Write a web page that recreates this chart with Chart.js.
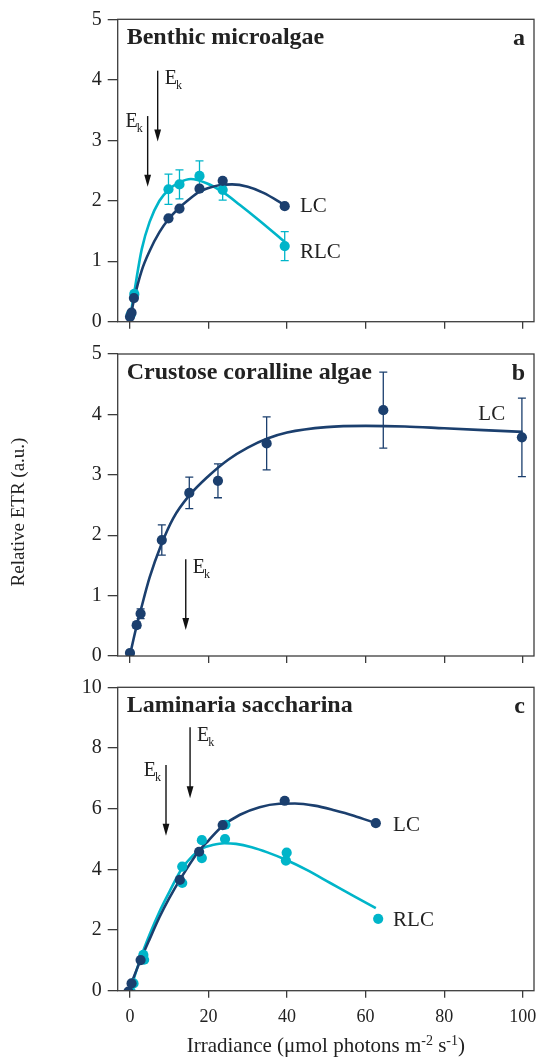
<!DOCTYPE html>
<html>
<head>
<meta charset="utf-8">
<script src="https://cdn.jsdelivr.net/npm/chart.js@4.4.0/dist/chart.umd.min.js"></script>
<style>
  body { margin: 0; background: #fff; }
  .panel { position: absolute; left: 0; width: 540px; }
</style>
</head>
<body>
<div class="panel" style="top:0;height:340px"><canvas id="chartA"></canvas></div>
<div class="panel" style="top:340px;height:330px"><canvas id="chartB"></canvas></div>
<div class="panel" style="top:670px;height:389px"><canvas id="chartC"></canvas></div>
<script>
// shared x axis (irradiance)
const xTicks = [0, 20, 40, 60, 80, 100];

// panel a - benthic microalgae
const aLcX = [0, 0.4, 1.0, 9.8, 12.6, 17.7, 23.6, 39.4];
const aLcY = [0.08, 0.15, 0.39, 1.71, 1.87, 2.20, 2.33, 1.91];
const aRlcX = [0.2, 1.1, 9.8, 12.6, 17.7, 23.6, 39.4];
const aRlcY = [0.12, 0.46, 2.19, 2.27, 2.41, 2.18, 1.25];
const aRlcErr = [0, 0, 0.25, 0.24, 0.25, 0.17, 0.24];
const aLcFitX = [0, 1, 3, 5, 7.5, 10, 12.5, 15, 17.7, 20, 23, 26, 30, 34, 39.4];
const aLcFitY = [0.03, 0.36, 0.85, 1.17, 1.48, 1.71, 1.88, 2.02, 2.15, 2.21, 2.26, 2.27, 2.23, 2.13, 1.93];
const aRlcFitX = [0, 1, 3, 5, 7.5, 10, 12.5, 15.5, 19.5, 23.5, 28, 33, 39.4];
const aRlcFitY = [0.05, 0.45, 1.2, 1.65, 2.0, 2.19, 2.30, 2.36, 2.29, 2.15, 1.93, 1.67, 1.32];
const aTicks = [0, 1, 2, 3, 4, 5];
const aEkX = [7.05, 4.5];
const aEkTop = [4.15, 3.40];
const aEkBottom = [2.98, 2.23];
const aEkSide = ['right', 'left'];
const aLabels = ['LC', 'RLC'];
const aLabelX = [43.3, 43.3];
const aLabelY = [1.82, 1.06];

// panel b - crustose coralline algae
const bLcX = [0, 1.7, 2.7, 8.1, 15.1, 22.4, 34.8, 64.5, 99.8];
const bLcY = [0.05, 0.51, 0.70, 1.92, 2.70, 2.90, 3.52, 4.07, 3.62];
const bLcErr = [0, 0.05, 0.08, 0.25, 0.26, 0.28, 0.44, 0.63, 0.65];
const bLcFitX = [0, 1.7, 2.7, 5, 8, 11, 15, 20, 25, 30, 35, 40, 50, 60, 70, 80, 90, 100];
const bLcFitY = [0.02, 0.5, 0.75, 1.3, 1.85, 2.28, 2.65, 2.98, 3.25, 3.45, 3.6, 3.7, 3.79, 3.81, 3.8, 3.77, 3.74, 3.71];
const bTicks = [0, 1, 2, 3, 4, 5];
const bEkX = [14.2];
const bEkTop = [1.60];
const bEkBottom = [0.43];
const bEkSide = ['right'];
const bLabels = ['LC'];
const bLabelX = [88.7];
const bLabelY = [3.91];

// panel c - laminaria saccharina
const cLcX = [-0.4, 0.4, 2.7, 12.7, 17.6, 23.6, 39.4, 62.6];
const cLcY = [-0.03, 0.24, 1.01, 3.65, 4.58, 5.46, 6.26, 5.52];
const cRlcX = [0.2, 0.9, 3.4, 3.6, 13.3, 13.3, 18.3, 18.3, 24.2, 24.3, 39.9, 39.7, 63.2];
const cRlcY = [-0.03, 0.24, 1.18, 1.02, 4.09, 3.55, 4.96, 4.37, 5.0, 5.47, 4.55, 4.29, 2.37];
const cLcFitX = [-0.4, 2.5, 5, 7.5, 10, 13.2, 17.4, 20, 23.5, 28, 33, 38, 42, 47, 52, 57, 62.6];
const cLcFitY = [0, 0.95, 1.7, 2.42, 3.05, 3.76, 4.58, 4.95, 5.42, 5.8, 6.05, 6.16, 6.17, 6.1, 5.95, 5.77, 5.52];
const cRlcFitX = [0, 2.5, 5, 7.5, 10, 13, 16, 18.5, 21, 24, 27, 31, 35, 40, 45, 51, 57, 62.6];
const cRlcFitY = [0, 1.0, 1.85, 2.6, 3.25, 3.98, 4.45, 4.7, 4.8, 4.86, 4.84, 4.73, 4.56, 4.3, 3.98, 3.55, 3.12, 2.72];
const cTicks = [0, 2, 4, 6, 8, 10];
const cEkX = [15.3, 9.17];
const cEkTop = [8.68, 7.44];
const cEkBottom = [6.34, 5.11];
const cEkSide = ['right', 'left'];
const cLabels = ['LC', 'RLC'];
const cLabelX = [67.0, 67.0];
const cLabelY = [5.27, 2.13];

const FONT = '"Liberation Serif", "Times New Roman", serif';
const NAVY = '#1b3f6e';
const CYAN = '#00b5c9';
const AXIS = '#3c3c3c';
const TEXT = '#222';
const AREA_LEFT = 117.7;
const X_MIN = -3.13;
const X_MAX = 102.88;

function pts(xs, ys) {
  return xs.map((x, i) => ({ x: x, y: ys[i] }));
}

function fitSet(xs, ys, color, order) {
  return {
    data: pts(xs, ys), borderColor: color, borderWidth: 2.6, pointRadius: 0,
    showLine: true, cubicInterpolationMode: 'monotone', fill: false, order: order
  };
}

function dotSet(xs, ys, color, order, errs) {
  return {
    data: pts(xs, ys), showLine: false, pointRadius: 5.1, borderWidth: 0,
    pointBackgroundColor: color, pointBorderColor: color, pointBorderWidth: 0,
    errColor: color, errors: errs || null, order: order
  };
}

function drawEk(ctx, x, top, side) {
  ctx.font = '20px ' + FONT;
  const wE = ctx.measureText('E').width;
  ctx.font = '12px ' + FONT;
  const wk = ctx.measureText('k').width;
  const start = side === 'right' ? x + 7 : x - 5 - (wE - 1 + wk);
  const base = side === 'right' ? top + 13.5 : top + 11;
  ctx.font = '20px ' + FONT;
  ctx.fillText('E', start, base);
  ctx.font = '12px ' + FONT;
  ctx.fillText('k', start + wE - 1, base + 5);
}

function drawXTitle(ctx, cx, base) {
  const parts = [['Irradiance (μmol photons m', 0], ['-2', 1], [' s', 0], ['-1', 1], [')', 0]];
  const big = '21px ' + FONT, small = '14px ' + FONT;
  let w = 0;
  parts.forEach(([t, s]) => { ctx.font = s ? small : big; w += ctx.measureText(t).width; });
  let xx = cx - w / 2;
  parts.forEach(([t, s]) => {
    ctx.font = s ? small : big;
    ctx.fillText(t, xx, s ? base - 7 : base);
    xx += ctx.measureText(t).width;
  });
}

function panelPlugin(p) {
  return {
    id: 'panel_' + p.letter,
    beforeDatasetDraw(chart, args) {
      const ds = chart.data.datasets[args.index];
      if (!ds.errors) return;
      const { ctx, scales: { x, y } } = chart;
      ctx.save();
      ctx.strokeStyle = ds.errColor;
      ctx.lineWidth = 1.3;
      ds.data.forEach((pt, i) => {
        const e = ds.errors[i];
        if (!e) return;
        const px = x.getPixelForValue(pt.x);
        const y1 = y.getPixelForValue(pt.y + e);
        const y2 = y.getPixelForValue(pt.y - e);
        ctx.beginPath();
        ctx.moveTo(px, y1); ctx.lineTo(px, y2);
        ctx.moveTo(px - 4, y1); ctx.lineTo(px + 4, y1);
        ctx.moveTo(px - 4, y2); ctx.lineTo(px + 4, y2);
        ctx.stroke();
      });
      ctx.restore();
    },
    afterDraw(chart) {
      const { ctx, chartArea: a, scales: { x, y } } = chart;
      ctx.save();
      // frame
      ctx.strokeStyle = AXIS;
      ctx.lineWidth = 1.3;
      ctx.strokeRect(a.left, a.top, a.right - a.left, a.bottom - a.top);

      ctx.fillStyle = TEXT;
      ctx.textBaseline = 'alphabetic';
      // panel title and letter
      ctx.font = 'bold 24px ' + FONT;
      ctx.textAlign = 'left';
      ctx.fillText(p.title, a.left + 9, a.top + 25);
      ctx.textAlign = 'right';
      ctx.fillText(p.letter, a.right - 9, a.top + 26);

      // curve labels
      ctx.textAlign = 'left';
      ctx.font = '21px ' + FONT;
      p.labels.forEach((t, i) => {
        ctx.fillText(t, x.getPixelForValue(p.labelX[i]), y.getPixelForValue(p.labelY[i]));
      });

      // Ek arrows
      ctx.strokeStyle = '#111';
      ctx.fillStyle = '#111';
      ctx.lineWidth = 1.4;
      p.ekX.forEach((v, i) => {
        const px = x.getPixelForValue(v);
        const t = y.getPixelForValue(p.ekTop[i]);
        const b = y.getPixelForValue(p.ekBottom[i]);
        ctx.beginPath();
        ctx.moveTo(px, t); ctx.lineTo(px, b - 10);
        ctx.stroke();
        ctx.beginPath();
        ctx.moveTo(px - 3.4, b - 12); ctx.lineTo(px + 3.4, b - 12); ctx.lineTo(px, b);
        ctx.closePath();
        ctx.fill();
        ctx.fillStyle = TEXT;
        drawEk(ctx, px, t, p.ekSide[i]);
        ctx.fillStyle = '#111';
      });

      ctx.fillStyle = TEXT;
      if (p.yTitle) {
        ctx.save();
        ctx.translate(19, 172);
        ctx.rotate(-Math.PI / 2);
        ctx.textAlign = 'center';
        ctx.textBaseline = 'middle';
        ctx.font = '19px ' + FONT;
        ctx.fillText(p.yTitle, 0, 0);
        ctx.restore();
      }
      if (p.xTitle) {
        ctx.textAlign = 'left';
        drawXTitle(ctx, (a.left + a.right) / 2, 382);
      }
      ctx.restore();
    }
  };
}

function makePanel(id, p) {
  return new Chart(document.getElementById(id), {
    type: 'line',
    data: { datasets: p.datasets },
    options: {
      responsive: true,
      maintainAspectRatio: false,
      animation: false,
      events: [],
      layout: { padding: { top: p.padTop, right: 6, left: 0, bottom: 0 } },
      plugins: { legend: { display: false }, tooltip: { enabled: false }, title: { display: false } },
      scales: {
        x: {
          type: 'linear', min: X_MIN, max: X_MAX,
          afterBuildTicks: s => { s.ticks = xTicks.map(v => ({ value: v })); },
          afterFit: s => {
            s.height = p.xHeight;
            s.paddingLeft = 0; s.paddingRight = 0;
          },
          grid: { drawOnChartArea: false, drawTicks: true, tickLength: 7, color: AXIS, lineWidth: 1.3 },
          border: { display: false },
          ticks: { display: p.showX, font: { family: FONT, size: 18 }, color: TEXT, padding: 9, maxRotation: 0, autoSkip: false }
        },
        y: {
          type: 'linear', min: p.yTicks[0], max: p.yTicks[p.yTicks.length - 1],
          afterBuildTicks: s => { s.ticks = p.yTicks.map(v => ({ value: v })); },
          afterFit: s => {
            s.width = AREA_LEFT;
            s.paddingTop = 0; s.paddingBottom = 0;
          },
          grid: { drawOnChartArea: false, drawTicks: true, tickLength: 10, color: AXIS, lineWidth: 1.3 },
          border: { display: false },
          ticks: { font: { family: FONT, size: 20 }, color: TEXT, padding: 6, autoSkip: false }
        }
      }
    },
    plugins: [panelPlugin(p)]
  });
}

makePanel('chartA', {
  title: 'Benthic microalgae', letter: 'a', padTop: 19.3, xHeight: 340 - 321.7, showX: false,
  yTicks: aTicks, ekX: aEkX, ekTop: aEkTop, ekBottom: aEkBottom, ekSide: aEkSide,
  labels: aLabels, labelX: aLabelX, labelY: aLabelY,
  datasets: [
    dotSet(aLcX, aLcY, NAVY, 0),
    dotSet(aRlcX, aRlcY, CYAN, 1, aRlcErr),
    fitSet(aLcFitX, aLcFitY, NAVY, 2),
    fitSet(aRlcFitX, aRlcFitY, CYAN, 3)
  ]
});

makePanel('chartB', {
  title: 'Crustose coralline algae', letter: 'b', padTop: 14, xHeight: 330 - 316, showX: false,
  yTicks: bTicks, ekX: bEkX, ekTop: bEkTop, ekBottom: bEkBottom, ekSide: bEkSide,
  labels: bLabels, labelX: bLabelX, labelY: bLabelY, yTitle: 'Relative ETR (a.u.)',
  datasets: [
    dotSet(bLcX, bLcY, NAVY, 0, bLcErr),
    fitSet(bLcFitX, bLcFitY, NAVY, 1)
  ]
});

makePanel('chartC', {
  title: 'Laminaria saccharina', letter: 'c', padTop: 17.3, xHeight: 389 - 320.7, showX: true,
  yTicks: cTicks, ekX: cEkX, ekTop: cEkTop, ekBottom: cEkBottom, ekSide: cEkSide,
  labels: cLabels, labelX: cLabelX, labelY: cLabelY, xTitle: true,
  datasets: [
    dotSet(cLcX, cLcY, NAVY, 0),
    dotSet(cRlcX, cRlcY, CYAN, 1),
    fitSet(cLcFitX, cLcFitY, NAVY, 2),
    fitSet(cRlcFitX, cRlcFitY, CYAN, 3)
  ]
});
</script>
</body>
</html>
